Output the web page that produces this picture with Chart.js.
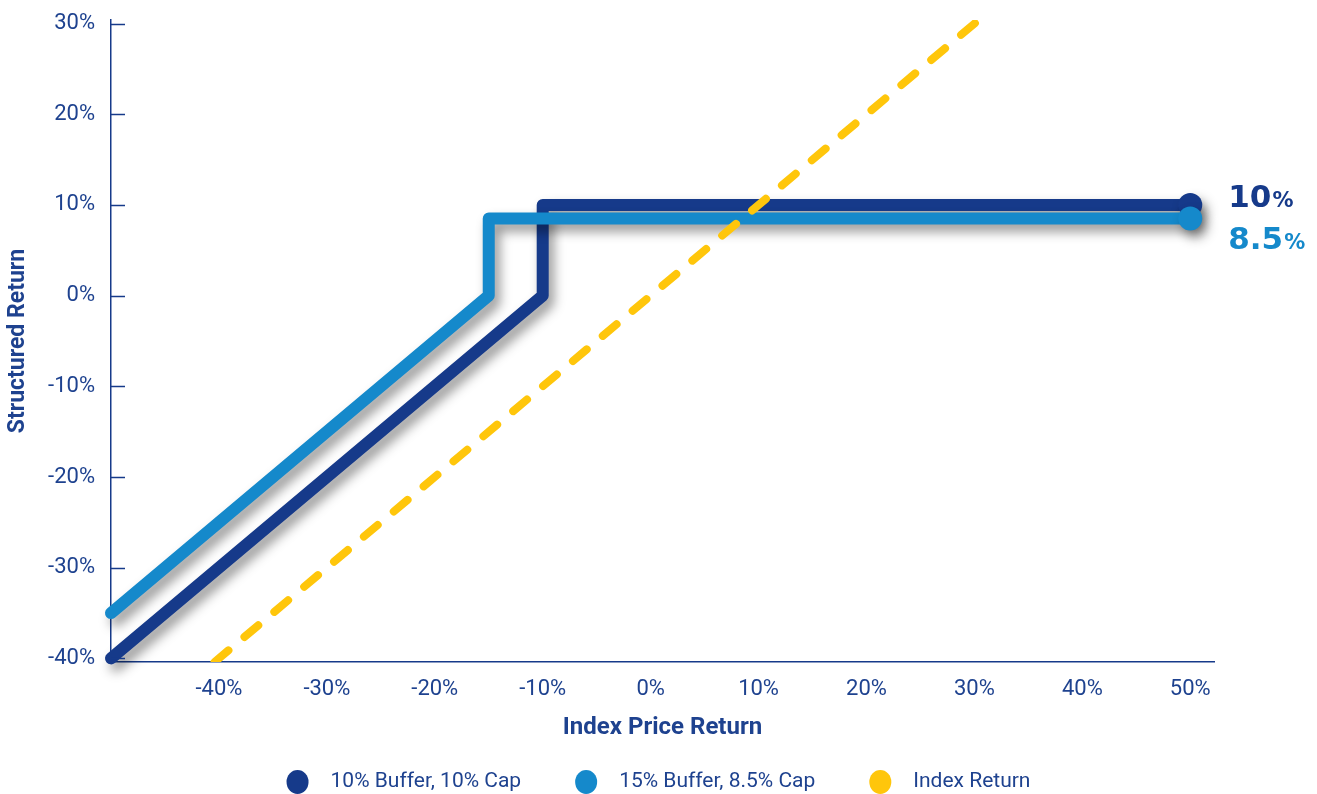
<!DOCTYPE html>
<html>
<head>
<meta charset="utf-8">
<title>Structured Return vs Index Price Return</title>
<script src="https://cdn.jsdelivr.net/npm/chart.js@4.4.1/dist/chart.umd.min.js"></script>
<style>
  html, body { margin: 0; padding: 0; background: #fff; overflow: hidden; }
  canvas { display: block; }
</style>
</head>
<body>
<canvas id="grafico" width="1317" height="794"></canvas>
<script>
// --- Dados ---
const seriesNames = ['10% Buffer, 10% Cap', '15% Buffer, 8.5% Cap', 'Index Return'];
const capLabels = ['10', '8.5'];

const buffer10X = [-50, -10, -10, 50];
const buffer10Y = [-40, 0, 10, 10];

const buffer15X = [-50, -15, -15, 50];
const buffer15Y = [-35, 0, 8.5, 8.5];

const indexX = [-40.4, 30.3];
const indexY = [-40.4, 30.3];

const xTicks = [-40, -30, -20, -10, 0, 10, 20, 30, 40, 50];
const yTicks = [-40, -30, -20, -10, 0, 10, 20, 30];

// --- Cores ---
const NAVY = '#163a8a';
const BLUE = '#1589cb';
const YELLOW = '#ffc60b';
const TEXT = '#1e428f';
const FONT = 'Roboto, sans-serif';

const toPoints = (xs, ys) => xs.map((x, i) => ({ x, y: ys[i] }));
const lastOnly = (r) => (ctx) => ctx.dataIndex === ctx.dataset.data.length - 1 ? r : 0;

// sombra só nas duas linhas principais
const sombra = {
    id: 'sombra',
    beforeDatasetDraw(chart, args) {
        if (args.index > 1) return;
        const c = chart.ctx;
        c.save();
        c.shadowColor = 'rgba(0,0,0,0.42)';
        c.shadowBlur = 12;
        c.shadowOffsetX = 5;
        c.shadowOffsetY = 7;
    },
    afterDatasetDraw(chart, args) {
        if (args.index > 1) return;
        chart.ctx.restore();
    }
};

// marcas do eixo Y, rótulos dos caps e legenda
const extras = {
    id: 'extras',
    afterDraw(chart) {
        const c = chart.ctx;
        const y = chart.scales.y;
        const left = chart.chartArea.left;
        c.save();
        c.strokeStyle = NAVY;
        c.lineWidth = 1.5;
        yTicks.forEach(v => {
            const py = Math.round(y.getPixelForValue(v)) + 0.5;
            c.beginPath();
            c.moveTo(left, py);
            c.lineTo(left + 14, py);
            c.stroke();
        });

        // rótulos no fim das linhas
        const offsets = [-6, 22];
        const colors = [NAVY, BLUE];
        c.textBaseline = 'middle';
        c.textAlign = 'left';
        capLabels.forEach((txt, i) => {
            const meta = chart.getDatasetMeta(i);
            const pt = meta.data[meta.data.length - 1];
            const px = pt.x + 38;
            const py = pt.y + offsets[i];
            c.fillStyle = colors[i];
            c.font = 'bold 31px "DejaVu Sans", sans-serif';
            c.fillText(txt, px, py);
            const w = c.measureText(txt).width;
            c.font = 'bold 21px "DejaVu Sans", sans-serif';
            c.fillText('%', px + w + 1, py + 3);
        });

        // legenda centralizada embaixo
        const r = 11, gapTexto = 22, gapItem = 54;
        const ly = chart.height - 12;
        c.font = '21px ' + FONT;
        const larguras = chart.data.datasets.map(ds => 2 * r + gapTexto + c.measureText(ds.label).width);
        const total = larguras.reduce((a, b) => a + b, 0) + gapItem * (larguras.length - 1);
        let lx = (chart.width - total) / 2;
        chart.data.datasets.forEach((ds, i) => {
            c.fillStyle = ds.borderColor;
            c.beginPath();
            c.ellipse(lx + r, ly, r, r * 1.08, 0, 0, Math.PI * 2);
            c.fill();
            c.fillStyle = TEXT;
            c.fillText(ds.label, lx + 2 * r + gapTexto, ly);
            lx += larguras[i] + gapItem;
        });
        c.restore();
    }
};

const ctx = document.getElementById('grafico');

new Chart(ctx, {
    type: 'line',
    data: {
        datasets: [
            {
                label: seriesNames[0],
                data: toPoints(buffer10X, buffer10Y),
                borderColor: NAVY,
                backgroundColor: NAVY,
                borderWidth: 12,
                borderCapStyle: 'round',
                borderJoinStyle: 'round',
                pointRadius: lastOnly(12),
                pointHoverRadius: lastOnly(12),
                pointBorderWidth: 0,
                order: 2,
                clip: false
            },
            {
                label: seriesNames[1],
                data: toPoints(buffer15X, buffer15Y),
                borderColor: BLUE,
                backgroundColor: BLUE,
                borderWidth: 12,
                borderCapStyle: 'round',
                borderJoinStyle: 'round',
                pointRadius: lastOnly(12),
                pointHoverRadius: lastOnly(12),
                pointBorderWidth: 0,
                order: 1,
                clip: false
            },
            {
                label: seriesNames[2],
                data: toPoints(indexX, indexY),
                borderColor: YELLOW,
                backgroundColor: YELLOW,
                borderWidth: 8,
                borderDash: [18, 21],
                borderCapStyle: 'round',
                pointRadius: 0,
                order: 0
            }
        ]
    },
    options: {
        responsive: false,
        animation: false,
        layout: { padding: { left: 0, right: 103, top: 20, bottom: 43 } },
        plugins: {
            tooltip: { enabled: false },
            legend: { display: false }
        },
        scales: {
            x: {
                type: 'linear',
                min: -50,
                max: 52.2,
                afterBuildTicks: (axis) => { axis.ticks = xTicks.map(v => ({ value: v })); },
                afterFit: (axis) => { axis.height = 89; },
                grid: { display: false, drawTicks: false },
                border: { color: NAVY, width: 1.5 },
                ticks: {
                    color: TEXT,
                    padding: 14,
                    maxRotation: 0,
                    font: { family: FONT, size: 22 },
                    callback: (v) => v + '%'
                },
                title: {
                    display: true,
                    text: 'Index Price Return',
                    color: TEXT,
                    font: { family: FONT, size: 24, weight: 'bold' },
                    padding: { top: 0, bottom: 9 }
                }
            },
            y: {
                min: -40.4,
                max: 30.4,
                afterBuildTicks: (axis) => { axis.ticks = yTicks.map(v => ({ value: v })); },
                afterFit: (axis) => {
                    axis.width = 111;
                    axis.paddingTop = 0;
                    axis.paddingBottom = 0;
                },
                grid: { display: false, drawTicks: false },
                border: { color: NAVY, width: 1.5 },
                ticks: {
                    color: TEXT,
                    padding: 16,
                    font: { family: FONT, size: 22 },
                    callback: (v) => v + '%'
                },
                title: {
                    display: true,
                    text: 'Structured Return',
                    color: TEXT,
                    font: { family: FONT, size: 23, weight: 'bold' },
                    padding: { bottom: 6 }
                }
            }
        }
    },
    plugins: [sombra, extras]
});
</script>
</body>
</html>
